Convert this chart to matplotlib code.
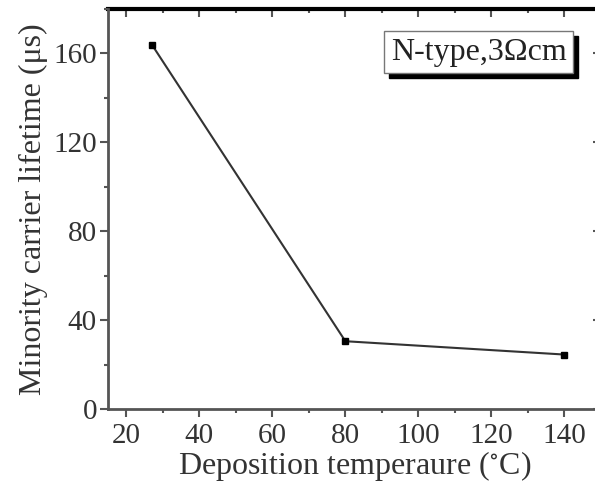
import matplotlib
matplotlib.use("Agg")
import matplotlib.pyplot as plt
from matplotlib.ticker import MultipleLocator
from matplotlib.patches import Rectangle
from matplotlib.transforms import IdentityTransform

temperature = [27, 80, 140]
lifetime = [164, 30.5, 24.5]
xticks = [20, 40, 60, 80, 100, 120, 140]
yticks = [0, 40, 80, 120, 160]
label_text = "N-type,3Ωcm"

plt.rcParams['font.family'] = ['Liberation Serif', 'DejaVu Serif']
plt.rcParams['mathtext.fontset'] = 'stix'

fig = plt.figure(figsize=(5.95, 4.92), dpi=100)
ax = fig.add_axes([108/595, 83/492, 493/595, 400/492])

ax.plot(temperature, lifetime, color='#333333', lw=1.5, marker='s', ms=5,
        mfc='black', mec='black', zorder=3)

ax.set_xlim(15, 150)
ax.set_ylim(0, 180)
ax.set_xticks(xticks)
ax.set_yticks(yticks)
ax.xaxis.set_minor_locator(MultipleLocator(10))
ax.yaxis.set_minor_locator(MultipleLocator(20))

ax.tick_params(axis='both', which='both', direction='out', colors='#555555',
               labelcolor='#333333', labelsize=21)
ax.tick_params(axis='both', which='major', length=6, width=1.5)
ax.tick_params(axis='both', which='minor', length=3, width=1.5)
ax.tick_params(axis='y', pad=2)
ax.tick_params(axis='x', pad=4)

sec_x = ax.secondary_xaxis('top')
sec_x.set_xticks(xticks)
sec_x.xaxis.set_minor_locator(MultipleLocator(10))
sec_x.tick_params(which='both', direction='in', labeltop=False, colors='#555555', width=1.5)
sec_x.tick_params(which='major', length=6)
sec_x.tick_params(which='minor', length=3)
sec_x.set_xticklabels([])
sec_x.spines['top'].set_linewidth(3)
sec_x.spines['top'].set_color('black')

sec_y = ax.secondary_yaxis('right')
sec_y.set_yticks(yticks)
sec_y.yaxis.set_minor_locator(MultipleLocator(20))
sec_y.tick_params(which='both', direction='in', colors='#555555', width=1.5)
sec_y.tick_params(which='major', length=6)
sec_y.tick_params(which='minor', length=3)
sec_y.set_yticklabels([])

for s in ['left', 'bottom']:
    ax.spines[s].set_linewidth(2)
    ax.spines[s].set_color('#555555')
ax.spines['top'].set_visible(False)
ax.spines['right'].set_linewidth(2)
ax.spines['right'].set_color('#555555')

ax.set_xlabel("Deposition temperaure ($^{\\circ}$C)", fontsize=23, color='#333333', labelpad=0)
ax.set_ylabel("Minority carrier lifetime (μs)", fontsize=23, color='#333333', labelpad=4)

# label box with shadow
t = ax.text(116.5, 160.5, label_text, fontsize=23, color='#222222',
            ha='center', va='center',
            bbox=dict(boxstyle='square,pad=0.2', fc='white', ec='#777777', lw=1), zorder=5)
fig.canvas.draw()
bb = t.get_bbox_patch().get_window_extent()
shadow = Rectangle((bb.x0 + 5, bb.y0 - 5), bb.width, bb.height,
                   transform=IdentityTransform(), fc='black', ec='black',
                   zorder=4, clip_on=False)
ax.add_artist(shadow)

fig.savefig("out.png", dpi=100)
